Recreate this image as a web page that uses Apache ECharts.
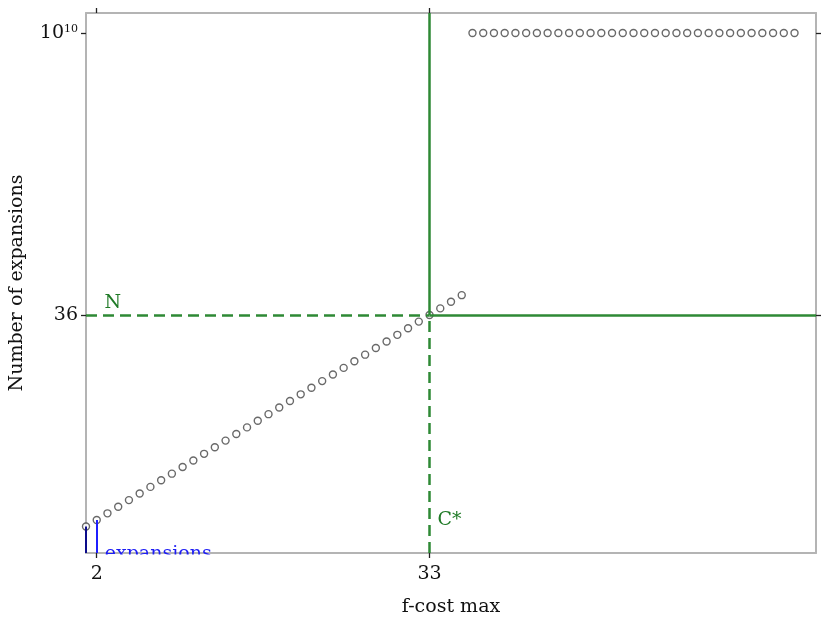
<!DOCTYPE html>
<html>
<head>
<meta charset="utf-8">
<script src="https://cdn.jsdelivr.net/npm/echarts@6/dist/echarts.min.js"></script>
<style>
  html, body { margin: 0; padding: 0; background: #fff; }
  #chart { width: 821px; height: 618px; }
</style>
</head>
<body>
<div id="chart"></div>
<script>
// f-cost bound vs. number of node expansions
const fCostLow = [1, 2, 3, 4, 5, 6, 7, 8, 9, 10, 11, 12, 13, 14, 15, 16, 17, 18,
                  19, 20, 21, 22, 23, 24, 25, 26, 27, 28, 29, 30, 31, 32, 33, 34, 35, 36];
const expansionsLow = [4, 5, 6, 7, 8, 9, 10, 11, 12, 13, 14, 15, 16, 17, 18, 19, 20, 21,
                       22, 23, 24, 25, 26, 27, 28, 29, 30, 31, 32, 33, 34, 35, 36, 37, 38, 39];
const fCostHigh = [37, 38, 39, 40, 41, 42, 43, 44, 45, 46, 47, 48, 49, 50, 51, 52,
                   53, 54, 55, 56, 57, 58, 59, 60, 61, 62, 63, 64, 65, 66, 67];
const expansionsHigh = [1e10, 1e10, 1e10, 1e10, 1e10, 1e10, 1e10, 1e10, 1e10, 1e10, 1e10,
                        1e10, 1e10, 1e10, 1e10, 1e10, 1e10, 1e10, 1e10, 1e10, 1e10, 1e10,
                        1e10, 1e10, 1e10, 1e10, 1e10, 1e10, 1e10, 1e10, 1e10];
// optimal cost C* and the expansions N needed at that bound
const cStar = 33;
const nStar = 36;
// first two stems of the expansions series
const stemX = [1, 2];
const stemY = [4, 5];
// tick positions
const xTicks = [2, 33];
const yTicks = [36, 1e10];

const X_MIN = 1, X_MAX = 69;
const Y_MIN = 0, Y_MAX = 1e10 + 3.02;
// collapse the empty stretch between the small counts and 10^10
const yBreak = { start: 70, end: 1e10 - 8.66, gap: 0 };

const FONT = 'DejaVu Serif';
const FS = 19;
const GREEN = '#2e8935';
const GREEN_TEXT = '#1f7a26';
const FRAME = '#b4b4b4';

const chart = echarts.init(document.getElementById('chart'), null, { renderer: 'canvas' });

const xBase = {
  type: 'value', min: X_MIN, max: X_MAX,
  splitLine: { show: false },
  axisLine: { show: true, onZero: false, lineStyle: { color: FRAME, width: 2 } },
  axisTick: { show: true, customValues: xTicks, length: 5, lineStyle: { color: '#222', width: 1.3 } }
};
const yBase = {
  type: 'value', min: Y_MIN, max: Y_MAX,
  breaks: [yBreak],
  breakArea: { show: false },
  splitLine: { show: false },
  axisLine: { show: true, onZero: false, lineStyle: { color: FRAME, width: 2 } },
  axisTick: { show: true, customValues: yTicks, length: 5, lineStyle: { color: '#222', width: 1.3 } }
};

const pointsLow = fCostLow.map((x, i) => [x, expansionsLow[i]]);
const pointsHigh = fCostHigh.map((x, i) => [x, expansionsHigh[i]]);

const plainText = { textBorderWidth: 0, textShadowBlur: 0, opacity: 1 };

chart.setOption({
  animation: false,
  backgroundColor: '#fff',
  grid: { left: 86, right: 5, top: 13, bottom: 65, containLabel: false, outerBoundsMode: 'none' },
  xAxis: [
    Object.assign({}, xBase, {
      position: 'bottom',
      name: 'f-cost max', nameLocation: 'middle', nameGap: 45,
      nameTextStyle: { fontFamily: FONT, fontSize: FS, color: '#111' },
      axisLabel: { customValues: xTicks, margin: 12, fontFamily: FONT, fontSize: FS, color: '#111' }
    }),
    Object.assign({}, xBase, { position: 'top', axisLabel: { show: false } })
  ],
  yAxis: [
    Object.assign({}, yBase, {
      position: 'left',
      name: 'Number of expansions', nameLocation: 'middle', nameGap: 59, nameRotate: 90,
      nameTextStyle: { fontFamily: FONT, fontSize: FS, color: '#111' },
      axisLabel: {
        customValues: yTicks, margin: 8, fontFamily: FONT, fontSize: FS, color: '#111',
        formatter: v => (v >= 1e9 ? '10{sup|10}' : String(v)),
        rich: { sup: { fontFamily: FONT, fontSize: 11, color: '#111', verticalAlign: 'top', padding: [0, 0, 8, 0] } }
      }
    }),
    Object.assign({}, yBase, { position: 'right', axisLabel: { show: false } })
  ],
  series: [
    {
      name: 'bounds', type: 'line', data: [], silent: true,
      markLine: {
        silent: true, symbol: ['none', 'none'], label: { show: false },
        data: [
          [{ coord: [X_MIN, nStar], lineStyle: { type: [11, 6] } }, { coord: [cStar, nStar] }],
          [{ coord: [cStar, Y_MIN], lineStyle: { type: [11, 6] } }, { coord: [cStar, nStar] }],
          [{ coord: [cStar, nStar], lineStyle: { type: 'solid' } }, { coord: [X_MAX, nStar] }],
          [{ coord: [cStar, nStar], lineStyle: { type: 'solid' } }, { coord: [cStar, Y_MAX] }]
        ],
        lineStyle: { color: GREEN, width: 2.5 }
      }
    },
    {
      name: 'expansions', type: 'scatter', clip: false, symbolSize: 0, z: 3,
      data: [{
        value: [stemX[1], Y_MIN],
        label: Object.assign({ show: true, formatter: 'expansions', position: 'inside', align: 'left',
                 offset: [8, 1], fontFamily: FONT, fontSize: FS, color: '#1c1cf5' }, plainText)
      }],
      markLine: {
        silent: true, symbol: ['none', 'none'], label: { show: false },
        data: [
          [{ coord: [stemX[0], Y_MIN], lineStyle: { color: '#0c0c8a' } }, { coord: [stemX[0], stemY[0]] }],
          [{ coord: [stemX[1], Y_MIN], lineStyle: { color: '#1f1fff' } }, { coord: [stemX[1], stemY[1]] }]
        ],
        lineStyle: { width: 2, type: 'solid' }
      }
    },
    {
      name: 'points', type: 'scatter', z: 4,
      data: pointsLow.concat(pointsHigh),
      symbol: 'circle', symbolSize: 7,
      itemStyle: { color: '#fff', borderColor: '#444', borderWidth: 1.4 }
    },
    {
      name: 'annotations', type: 'scatter', clip: false, symbolSize: 0, z: 5,
      data: [
        { value: [2, nStar], label: { show: true, formatter: 'N', position: 'inside', offset: [16, -12] } },
        { value: [cStar, Y_MIN], label: { show: true, formatter: 'C*', position: 'inside', offset: [20, -33] } }
      ],
      label: Object.assign({ fontFamily: FONT, fontSize: FS, color: GREEN_TEXT }, plainText)
    }
  ]
});

// hide the part of the series label that hangs below the plot frame
const base = chart.convertToPixel({ xAxisIndex: 0, yAxisIndex: 0 }, [stemX[1], Y_MIN]);
chart.setOption({
  graphic: [{
    type: 'rect', z: 100, silent: true,
    shape: { x: base[0] + 6, y: base[1] + 1.5, width: 140, height: 12 },
    style: { fill: '#fff' }
  }]
});
</script>
</body>
</html>
